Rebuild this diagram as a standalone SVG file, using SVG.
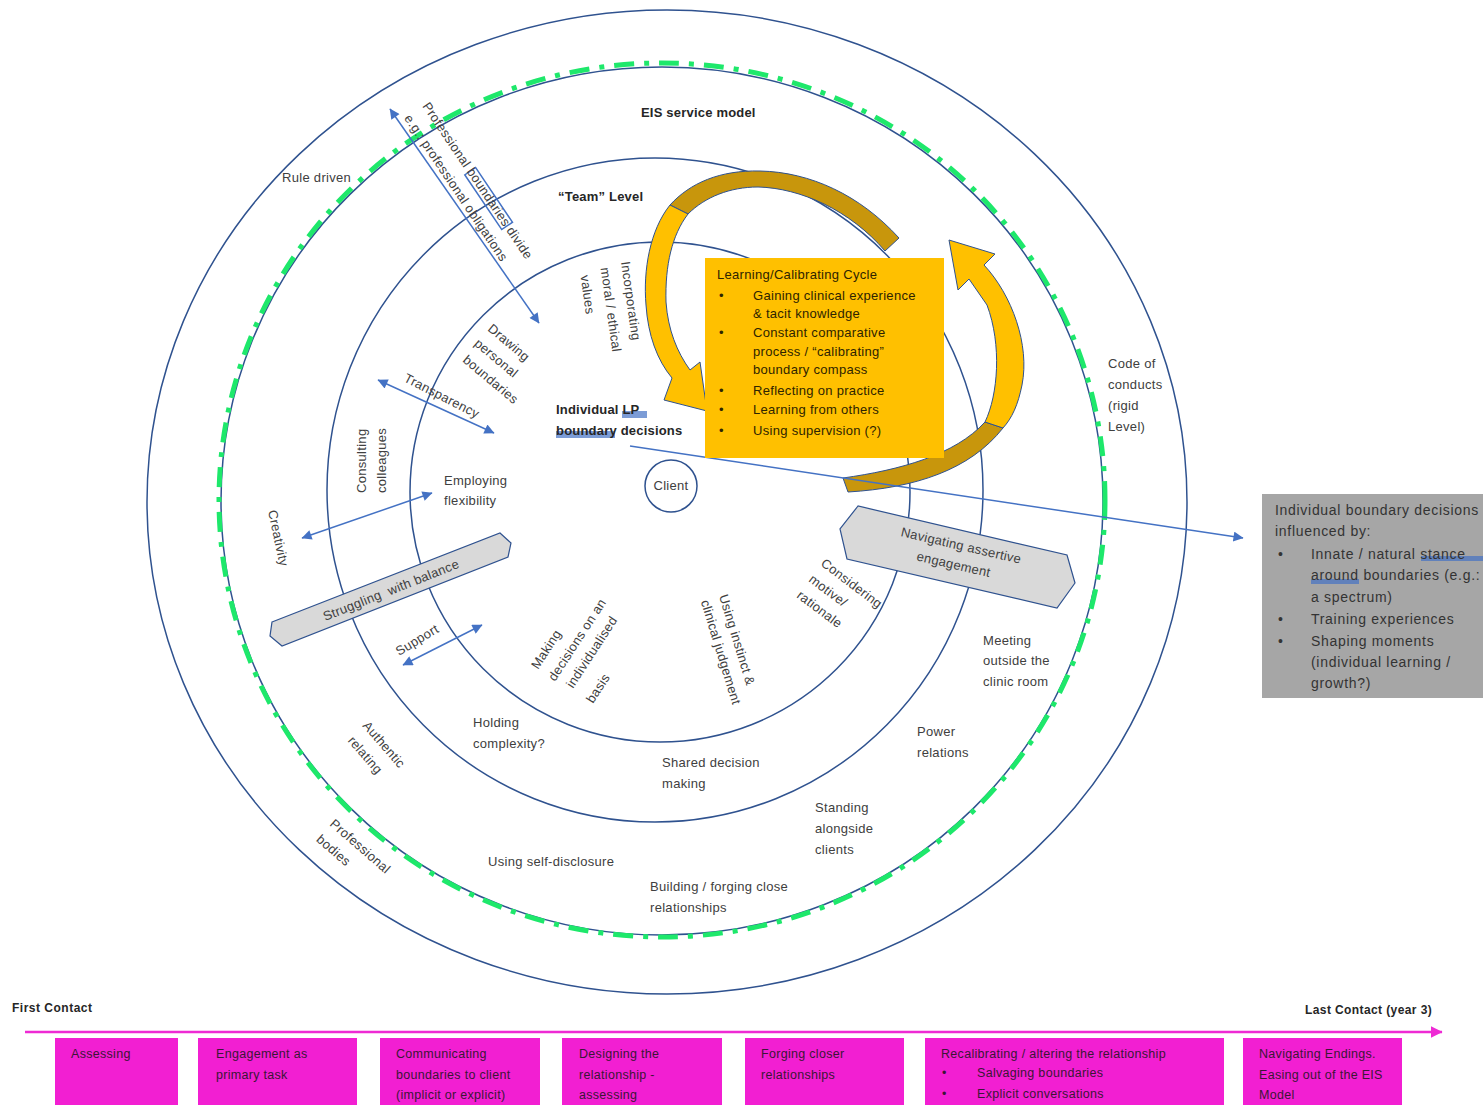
<svg xmlns="http://www.w3.org/2000/svg" width="1483" height="1105" viewBox="0 0 1483 1105" xml:space="preserve">
<defs>
<style>
.c{fill:none;stroke:#2f528f;stroke-width:1.5}
.t{font-family:"Liberation Sans",Arial,sans-serif;font-size:13px;fill:#404040;letter-spacing:0.3px;white-space:pre}
.b{font-weight:bold;fill:#262626;letter-spacing:0.2px}
.ob{fill:#2e2400}
.gb{font-size:14px;fill:#333;letter-spacing:0.7px}
.tl{font-size:12.5px;fill:#3b1636}
.conn{stroke:#4472c4;stroke-width:1.5;fill:none}
.hl{fill:#4472c4;opacity:.7}
.hex{fill:#d9d9d9;stroke:#2f528f;stroke-width:1.2}
</style>
<marker id="ah" viewBox="0 0 10 10" refX="9.5" refY="5" markerWidth="12" markerHeight="10" markerUnits="userSpaceOnUse" orient="auto-start-reverse"><path d="M0,0 L10,5 L0,10 z" fill="#4472c4"/></marker>
<marker id="ahp" viewBox="0 0 10 10" refX="9.5" refY="5" markerWidth="12" markerHeight="12" markerUnits="userSpaceOnUse" orient="auto"><path d="M0,0 L10,5 L0,10 z" fill="#ee2ad4"/></marker>
</defs>
<rect width="1483" height="1105" fill="#ffffff"/>

<g id="rings">
<ellipse class="c" cx="667" cy="502" rx="520" ry="492"/>
<ellipse class="c" cx="662" cy="501" rx="441" ry="434"/>
<ellipse cx="662" cy="500" rx="443" ry="437" fill="none" stroke="#1ee86b" stroke-width="5" stroke-dasharray="20 10 5 10"/>
<ellipse class="c" cx="655" cy="490" rx="328" ry="332"/>
<ellipse class="c" cx="660" cy="492" rx="250" ry="250"/>
</g>

<g id="cycle-arrows" stroke="#2f528f" stroke-width="1">
<path d="M899 238 C860 195,810 172,760 171 C720 170,690 183,670 205 L688 214 C705 197,730 187,758 187 C800 188,850 210,885 251 Z" fill="#c8960c"/>
<path d="M670 205 C650 230,643 270,646 305 C648 335,657 360,672 378 L664 400 L707 411 L700 362 L690 370 C677 352,668 330,666 302 C665 265,672 235,688 214 Z" fill="#ffc000"/>
<path d="M843 478 C900 470,955 455,985 422 L1003 428 C970 470,915 488,848 492 Z" fill="#c8960c"/>
<path d="M985 422 C998 395,1002 345,987 305 L969 279 L958 290 L949 240 L995 254 L984 265 C1012 295,1030 345,1022 385 C1018 405,1012 418,1003 428 Z" fill="#ffc000"/>
</g>

<g id="connectors">
<line class="conn" x1="390" y1="109" x2="539" y2="323" marker-start="url(#ah)" marker-end="url(#ah)"/>
<line class="conn" x1="378" y1="380" x2="494" y2="433" marker-start="url(#ah)" marker-end="url(#ah)"/>
<line class="conn" x1="302" y1="538" x2="432" y2="493" marker-start="url(#ah)" marker-end="url(#ah)"/>
<line class="conn" x1="403" y1="665" x2="482" y2="625" marker-start="url(#ah)" marker-end="url(#ah)"/>
<line class="conn" x1="630" y1="446" x2="1243" y2="538" marker-end="url(#ah)"/>
<line x1="25" y1="1032" x2="1442" y2="1032" stroke="#ee2ad4" stroke-width="2.5" marker-end="url(#ahp)"/>
</g>

<g id="learning-cycle">
<rect x="705" y="258" width="239" height="200" fill="#ffc000"/>
<g class="t ob">
<text x="717" y="279">Learning/Calibrating  Cycle</text>
<text x="719" y="300">•</text><text x="753" y="300">Gaining clinical experience</text>
<text x="753" y="318">&amp; tacit knowledge</text>
<text x="719" y="337">•</text><text x="753" y="337">Constant comparative</text>
<text x="753" y="356">process / “calibrating”</text>
<text x="753" y="374">boundary compass</text>
<text x="719" y="395">•</text><text x="753" y="395">Reflecting  on practice</text>
<text x="719" y="414">•</text><text x="753" y="414">Learning  from others</text>
<text x="719" y="435">•</text><text x="753" y="435">Using supervision  (?)</text>
</g>
</g>

<g id="influences">
<rect x="1262" y="494" width="225" height="204" fill="#a6a6a6"/>
<rect class="hl" x="1421" y="556" width="62" height="5"/>
<rect class="hl" x="1311" y="579" width="48" height="5"/>
<g class="t gb">
<text x="1275" y="515">Individual boundary  decisions</text>
<text x="1275" y="536">influenced  by:</text>
<text x="1278" y="559">•</text><text x="1311" y="559">Innate / natural stance</text>
<text x="1311" y="580">around boundaries  (e.g.:</text>
<text x="1311" y="602">a spectrum)</text>
<text x="1278" y="624">•</text><text x="1311" y="624">Training experiences</text>
<text x="1278" y="646">•</text><text x="1311" y="646">Shaping moments</text>
<text x="1311" y="667">(individual learning /</text>
<text x="1311" y="688">growth?)</text>
</g>
</g>

<g id="client">
<circle class="c" cx="671" cy="486" r="26"/>
<text class="t" x="671" y="490" text-anchor="middle">Client</text>
</g>

<g id="centre-label">
<rect class="hl" x="622" y="411" width="25" height="7"/>
<rect class="hl" x="556" y="431" width="59" height="7"/>
<text class="t b" x="556" y="414">Individual LP</text>
<text class="t b" x="556" y="435">boundary decisions</text>
</g>

<g id="struggling">
<polygon class="hex" points="272,622 500,533 511,543 508,557 282,646 270,636"/>
<text class="t" transform="translate(391,590) rotate(-21.7)" x="0" y="4.5" text-anchor="middle">Struggling  with balance</text>
</g>

<g id="navigating">
<polygon class="hex" points="858,506 840,529 847,559 1057,608 1075,583 1067,555"/>
<g class="t" transform="translate(961,546) rotate(13)" text-anchor="middle">
<text x="0" y="4">Navigating  assertive</text>
<text x="-3" y="24">engagement</text>
</g>
</g>

<g id="labels" class="t">
<text class="b" x="641" y="117">EIS service model</text>
<text class="b" x="558" y="201">“Team”  Level</text>
<text x="282" y="182">Rule driven</text>
<g transform="translate(422,106) rotate(56)">
<rect x="81" y="-10" width="66" height="13" fill="none" stroke="#4472c4" stroke-width="1.5"/>
<text x="0" y="0">Professional boundaries divide</text>
<text x="0" y="22">e.g.: professional obligations</text>
</g>
<g transform="translate(621,262) rotate(82)">
<text x="0" y="0">Incorporating</text>
<text x="3" y="21">moral / ethical</text>
<text x="8" y="42">values</text>
</g>
<g transform="translate(487,330) rotate(40)">
<text x="0" y="0">Drawing</text>
<text x="-1" y="20">personal</text>
<text x="1" y="40">boundaries</text>
</g>
<text transform="translate(403,381) rotate(27)">Transparency</text>
<g transform="translate(366,493) rotate(-90)">
<text x="0" y="0">Consulting</text>
<text x="0" y="20">colleagues</text>
</g>
<text transform="translate(268,511) rotate(78)">Creativity</text>
<text x="444" y="485">Employing</text>
<text x="444" y="505">flexibility</text>
<text transform="translate(399,656) rotate(-31)">Support</text>
<text transform="translate(538,670) rotate(-57)">Making</text>
<text transform="translate(555,682) rotate(-57)">decisions on an</text>
<text transform="translate(573,689) rotate(-57)">individualised</text>
<text transform="translate(593,704) rotate(-57)">basis</text>
<g transform="translate(719,596) rotate(73)">
<text x="0" y="0">Using instinct &amp;</text>
<text x="0" y="19">clinical judgement</text>
</g>
<g transform="translate(820,565) rotate(37)">
<text x="0" y="0">Considering</text>
<text x="0" y="20">motive/</text>
<text x="0" y="40">rationale</text>
</g>
<text x="1108" y="368">Code of</text>
<text x="1108" y="389">conducts</text>
<text x="1108" y="410">(rigid</text>
<text x="1108" y="431">Level)</text>
<text x="983" y="645">Meeting</text>
<text x="983" y="665">outside the</text>
<text x="983" y="686">clinic room</text>
<text x="917" y="736">Power</text>
<text x="917" y="757">relations</text>
<text x="815" y="812">Standing</text>
<text x="815" y="833">alongside</text>
<text x="815" y="854">clients</text>
<text x="650" y="891">Building / forging close</text>
<text x="650" y="912">relationships</text>
<text x="488" y="866">Using self-disclosure</text>
<text x="662" y="767">Shared  decision</text>
<text x="662" y="788">making</text>
<text x="473" y="727">Holding</text>
<text x="473" y="748">complexity?</text>
<g transform="translate(362,726) rotate(49)">
<text x="0" y="0">Authentic</text>
<text x="1.5" y="21">relating</text>
</g>
<g transform="translate(329,825) rotate(41)">
<text x="0" y="0">Professional</text>
<text x="0" y="20.5">bodies</text>
</g>
</g>

<g id="timeline" class="t tl">
<text class="b" x="12" y="1012" style="font-size:12px;letter-spacing:0.5px">First Contact</text>
<text class="b" x="1305" y="1014" style="font-size:12px;letter-spacing:0.4px">Last Contact  (year 3)</text>
<g fill="#f21fd2">
<rect x="55" y="1038" width="123" height="70"/>
<rect x="198" y="1038" width="159" height="70"/>
<rect x="380" y="1038" width="160" height="70"/>
<rect x="562" y="1038" width="160" height="70"/>
<rect x="745" y="1038" width="159" height="70"/>
<rect x="925" y="1038" width="299" height="70"/>
<rect x="1243" y="1038" width="159" height="70"/>
</g>
<text x="71" y="1058">Assessing</text>
<text x="216" y="1058">Engagement  as</text>
<text x="216" y="1079">primary task</text>
<text x="396" y="1058">Communicating</text>
<text x="396" y="1079">boundaries to client</text>
<text x="396" y="1099">(implicit or explicit)</text>
<text x="579" y="1058">Designing the</text>
<text x="579" y="1079">relationship  -</text>
<text x="579" y="1099">assessing</text>
<text x="761" y="1058">Forging closer</text>
<text x="761" y="1079">relationships</text>
<text x="941" y="1058">Recalibrating  / altering  the relationship</text>
<text x="942" y="1077">•</text><text x="977" y="1077">Salvaging  boundaries</text>
<text x="942" y="1098">•</text><text x="977" y="1098">Explicit conversations</text>
<text x="1259" y="1058">Navigating  Endings.</text>
<text x="1259" y="1079">Easing out of the EIS</text>
<text x="1259" y="1099">Model</text>
</g>
</svg>
